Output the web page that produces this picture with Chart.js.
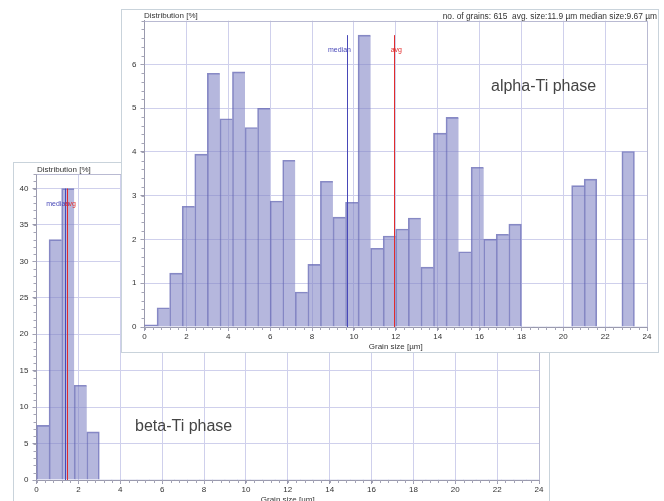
<!DOCTYPE html>
<html>
<head>
<meta charset="utf-8">
<script src="https://cdn.jsdelivr.net/npm/chart.js@4.4.1/dist/chart.umd.min.js"></script>
<style>
    body { margin: 0; width: 664px; height: 501px; overflow: hidden; background: #fff; position: relative; font-family: 'Liberation Sans', Arial, sans-serif; }
    .panel { position: absolute; box-sizing: border-box; border: 1px solid #c9d3db; background: #fff; }
    #betaPanel { left: 13px; top: 162px; width: 537px; height: 346px; }
    #alphaPanel { left: 121px; top: 9px; width: 538px; height: 344px; }
    .panel canvas { position: absolute; left: 0; top: 0; }
    .lbl { position: absolute; font-size: 8px; line-height: 10px; color: #333; white-space: nowrap; }
    .stats { font-size: 8.4px; }
    .phase { position: absolute; font-size: 16px; line-height: 18px; color: #444; white-space: nowrap; }
</style>
</head>
<body>
<div class="panel" id="betaPanel">
    <canvas id="betaChart" width="535" height="344"></canvas>
    <div class="lbl" style="left:23px; top:2px;">Distribution [%]</div>
    <div class="phase" style="left:121px; top:254px;">beta-Ti phase</div>
</div>
<div class="panel" id="alphaPanel">
    <canvas id="alphaChart" width="536" height="342"></canvas>
    <div class="lbl" style="left:22px; top:1px;">Distribution [%]</div>
    <div class="lbl stats" style="right:1px; top:1px;">no. of grains: 615&nbsp; avg. size:11.9 µm median size:9.67 µm</div>
    <div class="phase" style="left:369px; top:67px;">alpha-Ti phase</div>
</div>
<script>
// bin centres (0.6 µm bins)
const binCenters = [0.3, 0.9, 1.5, 2.1, 2.7, 3.3, 3.9, 4.5, 5.1, 5.7,
    6.3, 6.9, 7.5, 8.1, 8.7, 9.3, 9.9, 10.5, 11.1, 11.7,
    12.3, 12.9, 13.5, 14.1, 14.7, 15.3, 15.9, 16.5, 17.1, 17.7,
    18.3, 18.9, 19.5, 20.1, 20.7, 21.3, 21.9, 22.5, 23.1, 23.7];

// distribution [%]
const alphaValues = [0.05, 0.44, 1.23, 2.76, 3.95, 5.80, 4.76, 5.83, 4.56, 5.00,
    2.88, 3.81, 0.80, 1.43, 3.33, 2.51, 2.85, 6.67, 1.80, 2.08,
    2.24, 2.49, 1.37, 4.43, 4.79, 1.72, 3.65, 2.01, 2.12, 2.35,
    0, 0, 0, 0, 3.23, 3.38, 0, 0, 4.01, 0];
const betaValues = [7.5, 33.0, 40.0, 13.0, 6.6, 0, 0, 0, 0, 0,
    0, 0, 0, 0, 0, 0, 0, 0, 0, 0,
    0, 0, 0, 0, 0, 0, 0, 0, 0, 0,
    0, 0, 0, 0, 0, 0, 0, 0, 0, 0];

// tick labels
const xTicks = [0, 2, 4, 6, 8, 10, 12, 14, 16, 18, 20, 22, 24];
const alphaYTicks = [0, 1, 2, 3, 4, 5, 6];
const betaYTicks = [0, 5, 10, 15, 20, 25, 30, 35, 40];

// median / average sizes [µm]
const alphaMedian = 9.67;
const alphaAvg = 11.9;
const betaMedian = 1.37;
const betaAvg = 1.48;

Chart.defaults.font.family = "'Liberation Sans', Arial, sans-serif";
Chart.defaults.font.size = 8;
Chart.defaults.color = '#333';

const medianColor = '#4848b8';
const avgColor = '#e22c2c';

function overlayPlugin(cfg) {
    return {
        id: 'overlay',
        afterDatasetsDraw(chart) {
            const ctx = chart.ctx;
            const xs = chart.scales.x, ys = chart.scales.y;
            const area = chart.chartArea;
            const top = ys.getPixelForValue(cfg.lineTop);
            // median & avg lines
            [[cfg.median, medianColor], [cfg.avg, avgColor]].forEach(([v, col]) => {
                const px = Math.round(xs.getPixelForValue(v)) + 0.5;
                ctx.save();
                ctx.strokeStyle = col;
                ctx.lineWidth = 1;
                ctx.beginPath();
                ctx.moveTo(px, top);
                ctx.lineTo(px, area.bottom);
                ctx.stroke();
                ctx.restore();
            });
            ctx.save();
            ctx.font = "7px 'Liberation Sans', Arial, sans-serif";
            ctx.textBaseline = 'middle';
            ctx.fillStyle = medianColor;
            ctx.textAlign = 'right';
            ctx.fillText('median', xs.getPixelForValue(cfg.median) + 4, top + 15);
            ctx.fillStyle = avgColor;
            ctx.textAlign = 'left';
            ctx.fillText('avg', xs.getPixelForValue(cfg.avg) - 3, top + 15);
            ctx.restore();
        },
        afterDraw(chart) {
            const ctx = chart.ctx;
            const xs = chart.scales.x, ys = chart.scales.y;
            const a = chart.chartArea;
            ctx.save();
            // plot frame (top/right)
            ctx.strokeStyle = '#b9bad2';
            ctx.lineWidth = 1;
            ctx.beginPath();
            ctx.moveTo(a.left, Math.round(a.top) + 0.5);
            ctx.lineTo(Math.round(a.right) + 0.5, Math.round(a.top) + 0.5);
            ctx.lineTo(Math.round(a.right) + 0.5, a.bottom);
            ctx.stroke();
            // minor ticks
            ctx.strokeStyle = '#a4a4b6';
            ctx.beginPath();
            for (let v = 0; v <= 24.001; v += 0.4) {
                const px = Math.round(xs.getPixelForValue(v)) + 0.5;
                ctx.moveTo(px, a.bottom);
                ctx.lineTo(px, a.bottom + 3);
            }
            for (let v = 0; v <= cfg.yMax + 0.001; v += cfg.yMinor) {
                const py = Math.round(ys.getPixelForValue(v)) + 0.5;
                ctx.moveTo(a.left - 3, py);
                ctx.lineTo(a.left, py);
            }
            ctx.stroke();
            ctx.restore();
        }
    };
}

function makeChart(canvasId, values, yTicks, yMax, yMinor, median, avg, pad) {
    const ctx = document.getElementById(canvasId).getContext('2d');
    return new Chart(ctx, {
        type: 'bar',
        data: {
            datasets: [{
                data: binCenters.map((x, i) => ({ x: x, y: values[i] })),
                backgroundColor: 'rgba(128,131,197,0.58)',
                borderColor: 'rgba(96,99,178,0.75)',
                // one edge between neighbouring bars, closing edge when the next bin is empty
                borderWidth: c => {
                    const i = c.dataIndex;
                    if (!(values[i] > 0)) return 0;
                    return { left: 1, top: 1, right: values[i + 1] > 0 ? 0 : 1, bottom: 0 };
                },
                barPercentage: 1,
                categoryPercentage: 1
            }]
        },
        options: {
            responsive: false,
            animation: false,
            layout: { padding: pad },
            plugins: { legend: { display: false }, tooltip: { enabled: false } },
            scales: {
                x: {
                    type: 'linear',
                    min: 0,
                    max: 24,
                    offset: false,
                    grid: { offset: false, color: '#cfd0ec', tickColor: '#9a9aae', tickLength: 4 },
                    border: { color: '#9a9aae' },
                    ticks: { padding: 1, maxRotation: 0, color: '#333' },
                    afterBuildTicks: s => { s.ticks = xTicks.map(v => ({ value: v })); },
                    afterFit: s => { s.height = 25; },
                    title: { display: true, text: 'Grain size [µm]', padding: { top: 0, bottom: 0 }, color: '#333', font: { size: 8 } }
                },
                y: {
                    min: 0,
                    max: yMax,
                    grid: { color: '#cfd0ec', tickColor: '#9a9aae', tickLength: 4 },
                    border: { color: '#9a9aae' },
                    ticks: { padding: 4, color: '#333' },
                    afterBuildTicks: s => { s.ticks = yTicks.map(v => ({ value: v })); },
                    afterFit: s => { s.width = 22.5; }
                }
            }
        },
        plugins: [overlayPlugin({
            median: median,
            avg: avg,
            lineTop: Math.max(...values),
            yMax: yMax,
            yMinor: yMinor
        })]
    });
}

makeChart('betaChart', betaValues, betaYTicks, 42, 1, betaMedian, betaAvg,
    { left: 0, top: 11, right: 10, bottom: 2 });
makeChart('alphaChart', alphaValues, alphaYTicks, 7, 0.2, alphaMedian, alphaAvg,
    { left: 0, top: 10.7, right: 11, bottom: 0 });
</script>
</body>
</html>
